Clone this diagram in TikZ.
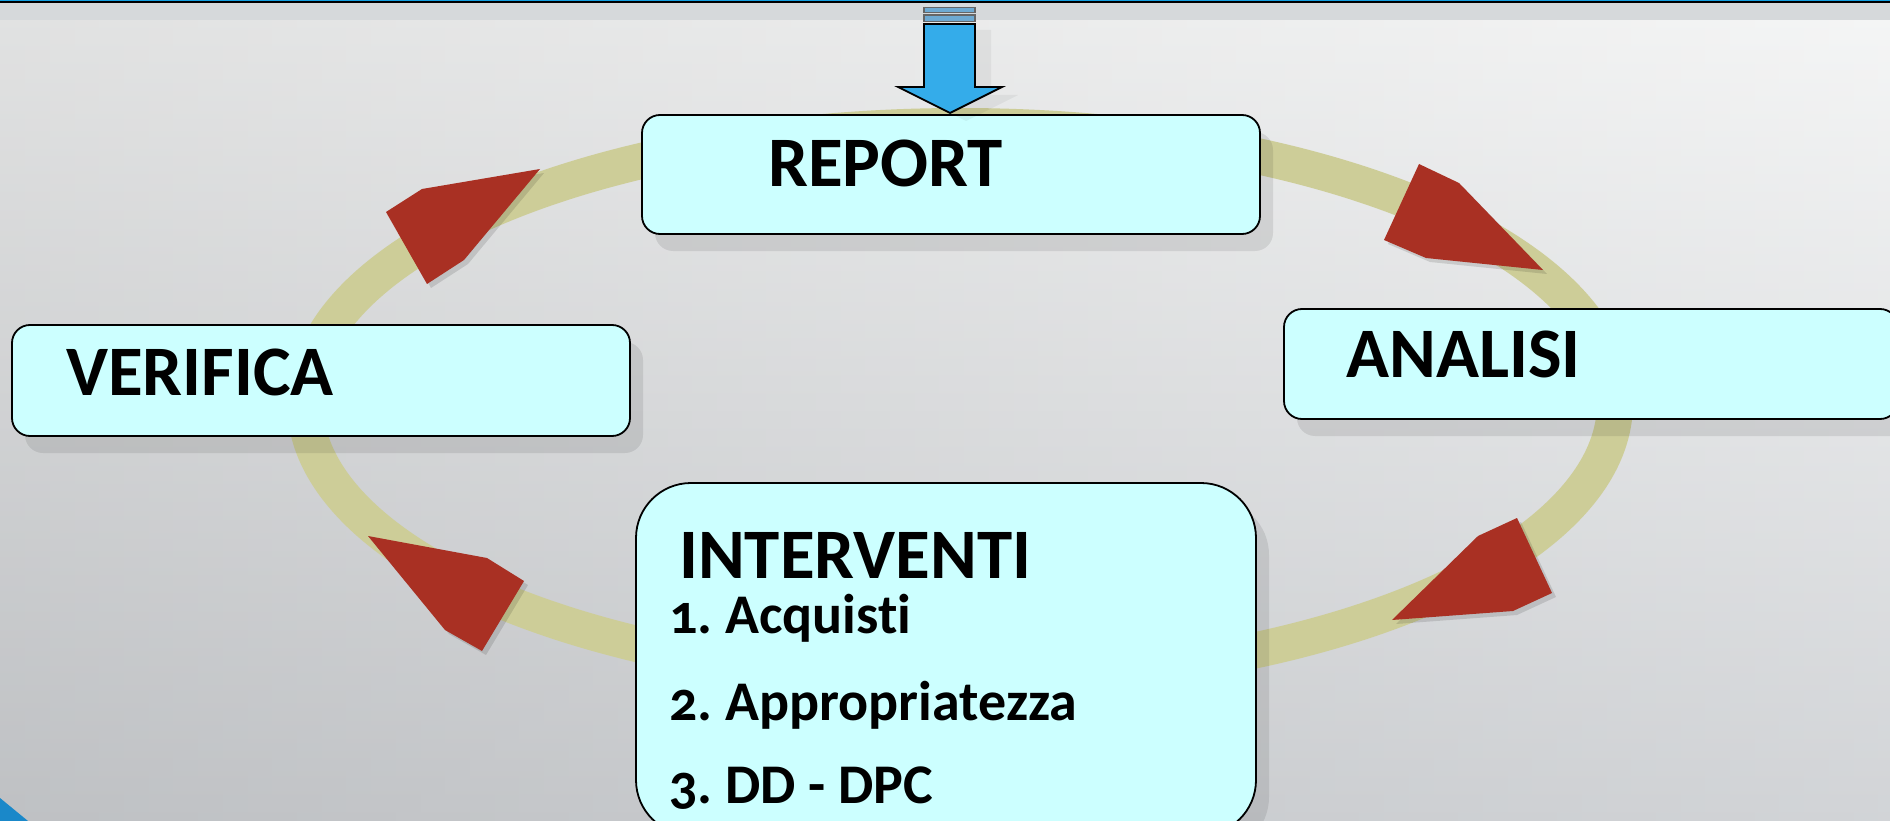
\documentclass[tikz,border=0pt]{standalone}
\usepackage{fontspec}
\setmainfont{Carlito}
\newfontfamily\listfont[Numbers=OldStyle, Ligatures=NoCommon]{Carlito}
\usetikzlibrary{shadows}
\definecolor{boxfill}{RGB}{204,255,255}
\definecolor{ringc}{RGB}{205,205,152}
\definecolor{redarrow}{RGB}{169,48,35}
\definecolor{bluearrow}{RGB}{52,172,234}
\definecolor{bgtop}{RGB}{242,243,243}
\definecolor{bgbot}{RGB}{195,198,202}
\definecolor{bandc}{RGB}{214,217,219}
\definecolor{topblue}{RGB}{20,160,225}
\definecolor{cornerblue}{RGB}{26,136,201}
\definecolor{barfill}{RGB}{110,170,210}
\tikzset{
  mainbox/.style={draw=black, line width=1.8pt, fill=boxfill, rounded corners=18pt,
    inner sep=0pt, drop shadow={shadow xshift=13pt, shadow yshift=-17pt, fill=black, opacity=0.09}},
  bigbox/.style={mainbox, rounded corners=55pt},
  lbl/.style={inner sep=0pt, anchor=base west, font=\bfseries\fontsize{71}{85}\selectfont},
  listlbl/.style={inner sep=0pt, anchor=base west, font=\listfont\bfseries\fontsize{56}{67}\selectfont},
  redshape/.style={fill=redarrow},
  redshadow/.style={fill=black, opacity=0.12},
}
\begin{document}
\begin{tikzpicture}[x=1pt,y=-1pt]
\useasboundingbox (0,0) rectangle (1890,821);
% background
\shade[top color=bgtop, bottom color=bgbot] (0,0) rectangle (1890,821);
\shade[left color=black!30, right color=white, opacity=0.25] (0,20) rectangle (1890,821);
\fill[bandc] (0,3) rectangle (1890,20);
\fill[black] (0,1.5) rectangle (1890,3.2);
\fill[topblue] (0,0) rectangle (1890,1.5);
\fill[cornerblue] (0,798) -- (28,821) -- (0,821) -- cycle;
% ring
\draw[ringc, line width=36pt] (960,403) ellipse [x radius=655, y radius=277];
% red arrows: shadows
\fill[redshadow] (544,173) -- (426,193) -- (390,216) -- (431,288) -- (468,264) -- cycle;
\fill[redshadow] (1547,274) -- (1463,187) -- (1423,168) -- (1388,244) -- (1430,262) -- cycle;
\fill[redshadow] (1396,624) -- (1482,540) -- (1521,522) -- (1556,597) -- (1517,615) -- cycle;
\fill[redshadow] (372,540) -- (491,562) -- (528,585) -- (486,655) -- (449,634) -- cycle;
% red arrows
\fill[redshape] (540,169) -- (422,189) -- (386,212) -- (427,284) -- (464,260) -- cycle;
\fill[redshape] (1543,270) -- (1459,183) -- (1419,164) -- (1384,240) -- (1426,258) -- cycle;
\fill[redshape] (1392,620) -- (1478,536) -- (1517,518) -- (1552,593) -- (1513,611) -- cycle;
\fill[redshape] (368,536) -- (487,558) -- (524,581) -- (482,651) -- (445,630) -- cycle;
% boxes
\node[mainbox, minimum width=618pt, minimum height=119pt] (report) at (951,174.5) {};
\node[mainbox, minimum width=618pt, minimum height=111pt] (verifica) at (321,380.5) {};
\node[mainbox, minimum width=614pt, minimum height=110pt] (analisi) at (1591,364) {};
\node[bigbox, minimum width=620pt, minimum height=352pt] (interventi) at (946,659) {};
% texts
\node[lbl] (treport) at (768,187) {REPORT};
\node[lbl] (tverifica) at (66,395) {VERIFICA};
\node[lbl] (tanalisi) at (1346,377) {ANALISI};
\node[lbl] (tinterventi) at (679,578) {INTERVENTI};
\node[listlbl] (tl1) at (669,633) {1.\kern-4pt{} Acquisti};
\node[listlbl] (tl2) at (669,720) {2.\kern-4pt{} Appropriatezza};
\node[listlbl] (tl3) at (669,803) {3.\kern-4pt{} DD - DPC};
% blue arrow
\fill[black, opacity=0.05] (940,30) -- (991,30) -- (991,95) -- (1018,95) -- (966,121) -- (914,95) -- (940,95) -- cycle;
\draw[line width=1.2pt, draw=gray!80!black, fill=barfill] (924,7.5) rectangle (975,12.5);
\draw[line width=1.2pt, draw=gray!80!black, fill=barfill] (924,15) rectangle (975,21.5);
\draw[line width=1.8pt, draw=black, fill=bluearrow, line join=miter]
  (924,24) -- (975,24) -- (975,87) -- (1002,87) -- (950,113) -- (898,87) -- (924,87) -- cycle;
\end{tikzpicture}
\end{document}
